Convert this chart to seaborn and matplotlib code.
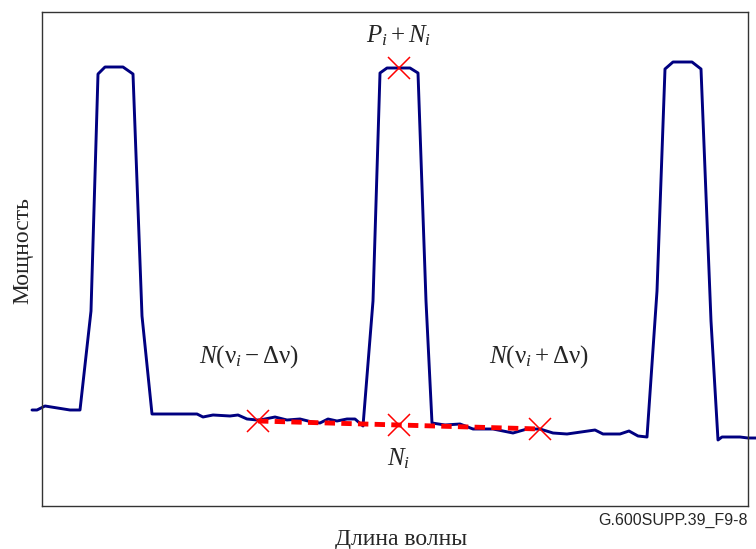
import matplotlib
matplotlib.use("Agg")
import matplotlib.pyplot as plt
import seaborn as sns

# Spectrum trace (wavelength, power), arbitrary units
wavelength = [-10, -5, 3, 28, 38, 49, 56, 63, 81, 91, 100, 110, 128, 155, 161, 171, 188, 196,
              205, 215, 218, 233, 245, 258, 270, 278, 286, 295, 305, 313, 321, 331, 338, 345,
              368, 376, 384, 390, 403, 418, 431, 451, 471, 485, 498, 511, 525, 553, 561, 578,
              587, 596, 605, 615, 623, 631, 650, 659, 669, 676, 680, 698, 706, 715]
power = [96, 96, 100, 96, 96, 195, 432, 439, 439, 432, 190, 92, 92, 92, 89, 91, 90, 91,
         87, 86, 86, 89, 86, 87, 84, 83, 87, 85, 87, 87, 80, 205, 433, 438, 438, 433,
         205, 83, 81, 82, 77, 77, 73, 77, 77, 73, 72, 76, 72, 72, 75, 70, 69, 215,
         437, 444, 444, 437, 185, 66, 69, 69, 68, 68]

# Noise estimates N(v_i - dv), N_i, N(v_i + dv) and the interpolation between them
noise_wl = [216, 357, 498]
noise_pw = [85, 81, 77]
peak_wl = [357]
peak_pw = [438]

sns.set_style("white")
plt.rcParams["font.family"] = ["Liberation Serif", "DejaVu Serif"]
plt.rcParams["mathtext.fontset"] = "custom"
plt.rcParams["mathtext.rm"] = "Liberation Serif"
plt.rcParams["mathtext.it"] = "Liberation Serif:italic"
plt.rcParams["lines.scale_dashes"] = False

fig = plt.figure(figsize=(7.56, 5.49), dpi=100)
ax = fig.add_axes([42 / 756, 1 - 506 / 549, 706 / 756, 494 / 549])

sns.lineplot(x=wavelength, y=power, ax=ax, estimator=None, sort=False,
             color="#000080", lw=2.1, clip_on=False)
sns.lineplot(x=noise_wl, y=noise_pw, ax=ax, estimator=None, sort=False,
             color="red", lw=3.5, linestyle=(0, (7.5, 4.5)), marker="x",
             ms=16, mew=1.1, mec="red", clip_on=False)
sns.lineplot(x=peak_wl, y=peak_pw, ax=ax, estimator=None, color="red", lw=0,
             marker="x", ms=16, mew=1.1, mec="red", clip_on=False)

ax.set_xlim(0, 706)
ax.set_ylim(0, 494)
ax.set_xticks([])
ax.set_yticks([])
for s in ax.spines.values():
    s.set_color("#333333")
    s.set_linewidth(1.0)

fs = 18
ax.text(357, 464, r"$P_i + N_i$", ha="center", va="baseline", fontsize=fs)
ax.text(357, 41, r"$N_i$", ha="center", va="baseline", fontsize=fs)
ax.text(207, 143, r"$N(\mathrm{\nu}_i - \Delta\mathrm{\nu})$", ha="center",
        va="baseline", fontsize=fs)
ax.text(497, 143, r"$N(\mathrm{\nu}_i + \Delta\mathrm{\nu})$", ha="center",
        va="baseline", fontsize=fs)

ax.set_xlabel("Длина волны", fontsize=17)
ax.set_ylabel("Мощность", fontsize=17)
ax.xaxis.set_label_coords(0.5085, -0.0466)
ax.yaxis.set_label_coords(-0.0118, 0.518)
fig.text(748 / 756, 1 - 525 / 549, "G.600SUPP.39_F9-8", ha="right", va="baseline",
         fontsize=11.5, family=["Liberation Sans", "DejaVu Sans"])

fig.savefig("out.png", dpi=100)
